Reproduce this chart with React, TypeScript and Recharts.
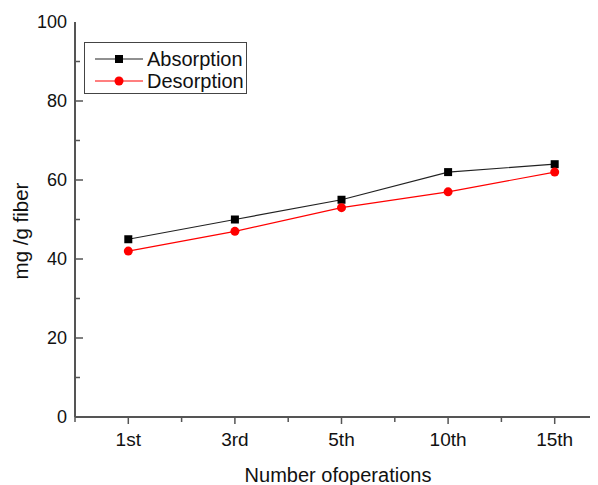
import { LineChart, Line, XAxis, YAxis, Legend, Label } from "recharts";

const categories = ["1st", "3rd", "5th", "10th", "15th"];
const absorption = [45, 50, 55, 62, 64];
const desorption = [42, 47, 53, 57, 62];
const yTicks = [0, 10, 20, 30, 40, 50, 60, 70, 80, 90, 100];
const xTicks = [0.5, 1, 1.5, 2, 2.5, 3, 3.5, 4, 4.5, 5, 5.5];

const data = categories.map((c, i) => ({
  x: i + 1,
  name: c,
  absorption: absorption[i],
  desorption: desorption[i],
}));

const FONT = "'Liberation Sans', Arial, sans-serif";
const AXIS = "#555";

function YTick(props: any) {
  const { x, y, payload } = props;
  const v = payload.value as number;
  const major = v % 20 === 0;
  // x is axis position minus tickMargin (8)
  const ax = x + 8;
  return (
    <g>
      {v > 0 && v < 100 && (
        <line x1={ax} x2={ax + (major ? 8 : 5)} y1={y} y2={y} stroke={AXIS} strokeWidth={1.5} />
      )}
      {major && (
        <text x={ax - 8} y={y} dy={6} textAnchor="end" fontSize={18} fontFamily={FONT} fill="#111">
          {v}
        </text>
      )}
    </g>
  );
}

function XTick(props: any) {
  const { x, y, payload } = props;
  const v = payload.value as number;
  const major = Number.isInteger(v);
  return (
    <g>
      <line x1={x} x2={x} y1={y} y2={y + (major ? 7 : 5)} stroke={AXIS} strokeWidth={1.5} />
      {major && (
        <text x={x} y={y + 29} textAnchor="middle" fontSize={19} fontFamily={FONT} fill="#111">
          {categories[v - 1]}
        </text>
      )}
    </g>
  );
}

function SquareDot(props: any) {
  const { cx, cy, index } = props;
  return <rect key={`sq-${index}`} x={cx - 4} y={cy - 4} width={8} height={8} fill="#000" />;
}

function LegendBox() {
  const rows = [
    { name: "Absorption", color: "#222", shape: "square" },
    { name: "Desorption", color: "#ff0000", shape: "circle" },
  ];
  return (
    <div
      style={{
        width: 163,
        height: 52,
        boxSizing: "border-box",
        border: "1.5px solid #444",
        background: "#fff",
        padding: "5px 0 0 10px",
        fontFamily: FONT,
        textAlign: "left",
      }}
    >
      {rows.map((r) => (
        <div key={r.name} style={{ display: "flex", alignItems: "center", height: 22, whiteSpace: "nowrap" }}>
          <svg width={49} height={14} style={{ marginRight: 3 }}>
            <line x1={0} x2={48} y1={7} y2={7} stroke={r.color} strokeWidth={1.2} />
            {r.shape === "square" ? (
              <rect x={20} y={3} width={8} height={8} fill="#000" />
            ) : (
              <circle cx={24} cy={7} r={4.5} fill="#ff0000" />
            )}
          </svg>
          <span style={{ fontSize: 20, color: "#111" }}>{r.name}</span>
        </div>
      ))}
    </div>
  );
}

export default function App() {
  return (
    <div style={{ margin: "-8px 0 0 -8px", width: 598, height: 485 }}>
      <LineChart
        width={598}
        height={485}
        data={data}
        margin={{ top: 22, right: -10, left: 0, bottom: 0 }}
        style={{ background: "#fff" }}
      >
        <XAxis
          dataKey="x"
          type="number"
          domain={[0.5, 5.5]}
          ticks={xTicks}
          interval={0}
          height={68}
          tickLine={false}
          tickSize={0}
          tickMargin={0}
          axisLine={{ stroke: AXIS, strokeWidth: 2 }}
          tick={<XTick />}
        >
          <Label
            content={() => (
              <text x={338} y={482} textAnchor="middle" fontSize={20} fontFamily={FONT} fill="#111">
                Number ofoperations
              </text>
            )}
          />
        </XAxis>
        <XAxis
          xAxisId="top"
          orientation="top"
          type="number"
          domain={[0.5, 5.5]}
          height={0}
          tick={false}
          tickLine={false}
          axisLine={{ stroke: AXIS, strokeWidth: 2 }}
        />
        <YAxis
          domain={[0, 100]}
          ticks={yTicks}
          interval={0}
          width={75}
          tickLine={false}
          tickSize={0}
          tickMargin={8}
          axisLine={{ stroke: AXIS, strokeWidth: 2 }}
          tick={<YTick />}
        >
          <Label
            content={() => (
              <text
                x={28}
                y={231}
                transform="rotate(-90, 28, 231)"
                textAnchor="middle"
                fontSize={20.5}
                fontFamily={FONT}
                fill="#111"
              >
                mg /g fiber
              </text>
            )}
          />
        </YAxis>
        <Legend
          layout="horizontal"
          verticalAlign="middle"
          align="center"
          wrapperStyle={{ top: 42, left: 84, width: "auto" }}
          content={<LegendBox />}
        />
        <Line
          dataKey="absorption"
          name="Absorption"
          stroke="#222"
          strokeWidth={1.2}
          dot={<SquareDot />}
          activeDot={false}
          isAnimationActive={false}
        />
        <Line
          dataKey="desorption"
          name="Desorption"
          stroke="#ff0000"
          strokeWidth={1.2}
          dot={{ r: 4.5, fill: "#ff0000", stroke: "#ff0000", strokeWidth: 0 }}
          activeDot={false}
          isAnimationActive={false}
        />
      </LineChart>
    </div>
  );
}
